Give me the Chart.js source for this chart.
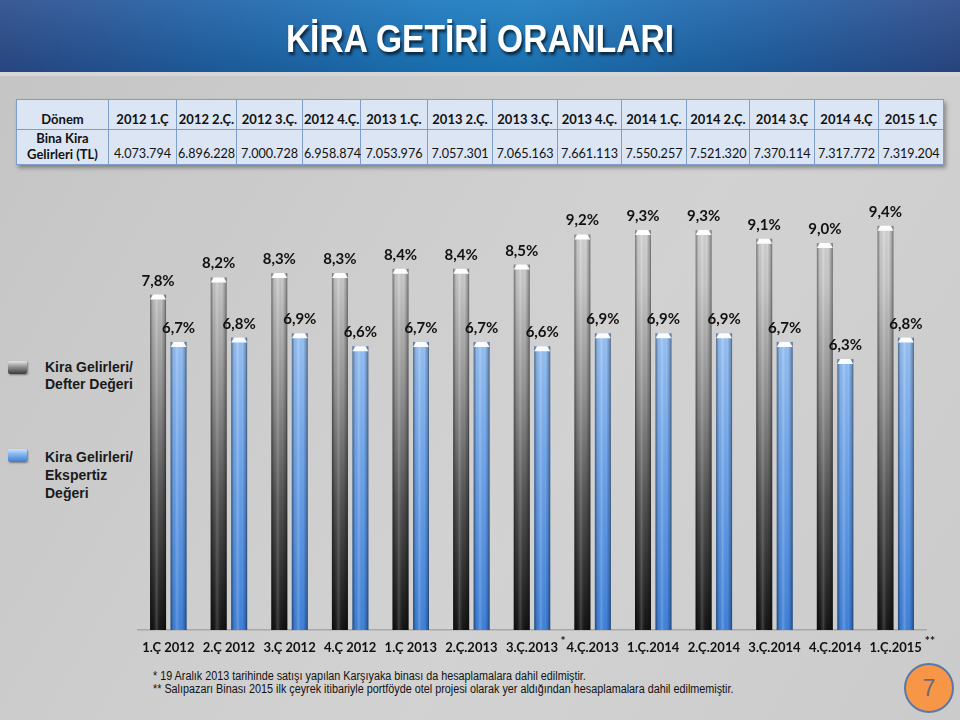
<!DOCTYPE html>
<html lang="tr">
<head>
<meta charset="utf-8">
<script src="https://cdn.jsdelivr.net/npm/chart.js@4/dist/chart.umd.min.js"></script>
<style>
  html, body { margin:0; padding:0; }
  body { width:960px; height:720px; position:relative; overflow:hidden;
    background: linear-gradient(120deg, #c4c4c4 0%, #cdcdcd 35%, #d2d2d2 60%, #cbcbcb 100%);
    font-family: "Liberation Sans", Arial, sans-serif; }
  #banner { position:absolute; left:0; top:0; width:960px; height:72px;
    background: linear-gradient(to right, #2b4c8c 0%, #1f62a8 22%, #1a78be 45%, #1c7bc0 55%, #1f62a8 78%, #2b4a8a 100%); }
  #banner:after { content:""; position:absolute; left:0; top:0; right:0; bottom:0;
    background: linear-gradient(to bottom, rgba(255,255,255,0.08), rgba(0,0,0,0.10)); }
  #band { position:absolute; left:0; top:72px; width:960px; height:4px; background:#d6d6d6; }
  #title { position:absolute; left:0; top:17px; width:960px; text-align:center; z-index:2;
    color:#fff; font: bold 39px "Liberation Sans", Arial, sans-serif;
    transform: scaleX(0.86); transform-origin: 480px 0;
    text-shadow: 2px 3px 3px rgba(0,0,0,0.65); }
  #tbl { position:absolute; left:16px; top:99px; width:927px; border-collapse:collapse; table-layout:fixed;
    box-shadow: 2px 3px 4px rgba(0,0,0,0.35); background:#dbe5f3;
    font-family: Lato, "Open Sans", sans-serif; font-size:13px; color:#111; }
  #tbl td { border:1px solid #7f9fcb; padding:0 1px 2px 1px; text-align:center; vertical-align:bottom; white-space:nowrap; overflow:visible; }
  #tbl tr.h td { height:27px; font-weight:bold; }
  #tbl tr.b td { height:31px; line-height:16px; font-size:12.6px; }
  #tbl tr.b td.first { font-weight:bold; font-size:13px; }
  .leg { position:absolute; font: bold 14px "Liberation Sans", Arial, sans-serif; color:#1a1a1a; line-height:17px; }
  .icon { position:absolute; width:19px; height:13px; border-radius:2px; box-shadow:1px 1px 2px rgba(0,0,0,0.4); }
  #icon1 { left:8px; top:361px; background: linear-gradient(to bottom, #e8e8e8 0%, #9a9a9a 40%, #3a3a3a 100%); }
  #icon2 { left:8px; top:449px; background: linear-gradient(to bottom, #cfe3fb 0%, #86b5ef 40%, #3d7dd0 100%); }
  #foot { position:absolute; left:153px; top:670px; font: 12px "Liberation Sans", Arial, sans-serif; color:#111; line-height:13px;
    transform: scaleX(0.9); transform-origin: 0 0; white-space:nowrap; }
  #page { position:absolute; left:904px; top:663px; width:50px; height:50px; border-radius:50%;
    background:#f79646; border:2px solid #5b78a8; box-sizing:border-box; text-align:center;
    font: 23px "Liberation Sans", Arial, sans-serif; color:#6b6b78; line-height:47px; }
  #chart { position:absolute; left:0; top:0; }
</style>
</head>
<body>
<div id="banner"></div>
<div id="band"></div>
<div id="title">KİRA GETİRİ ORANLARI</div>
<table id="tbl"></table>

<div class="icon" id="icon1"></div>
<div class="leg" style="left:45px; top:359px;">Kira Gelirleri/<br>Defter Değeri</div>
<div class="icon" id="icon2"></div>
<div class="leg" style="left:45px; top:448px; line-height:18px;">Kira Gelirleri/<br>Ekspertiz<br>Değeri</div>

<div id="foot">* 19 Aralık 2013 tarihinde satışı yapılan Karşıyaka binası da hesaplamalara dahil edilmiştir.<br>** Salıpazarı Binası 2015 ilk çeyrek itibariyle portföyde otel projesi olarak yer aldığından hesaplamalara dahil edilmemiştir.</div>
<div id="page">7</div>

<canvas id="chart" width="960" height="720"></canvas>

<script>
// ---- Data ----
const tablePeriods = ['2012 1.Ç','2012 2.Ç.','2012 3.Ç.','2012 4.Ç.','2013 1.Ç.','2013 2.Ç.','2013 3.Ç.','2013 4.Ç.','2014 1.Ç.','2014 2.Ç.','2014 3.Ç','2014 4.Ç','2015 1.Ç'];
const rentIncomeTL = ['4.073.794','6.896.228','7.000.728','6.958.874','7.053.976','7.057.301','7.065.163','7.661.113','7.550.257','7.521.320','7.370.114','7.317.772','7.319.204'];
const categories = ['1.Ç 2012','2.Ç 2012','3.Ç 2012','4.Ç 2012','1.Ç 2013','2.Ç.2013','3.Ç.2013','4.Ç.2013','1.Ç.2014','2.Ç.2014','3.Ç.2014','4.Ç.2014','1.Ç.2015'];
const bookValueYield = [7.8, 8.2, 8.3, 8.3, 8.4, 8.4, 8.5, 9.2, 9.3, 9.3, 9.1, 9.0, 9.4];
const appraisalYield = [6.7, 6.8, 6.9, 6.6, 6.7, 6.7, 6.6, 6.9, 6.9, 6.9, 6.7, 6.3, 6.8];
const markBefore = {7: '*'};
const markAfter = {12: '**'};

// ---- Table ----
const colW = [92,68,60,66,58,67,65,65,64,65,63,65,64,65];
const tbl = document.getElementById('tbl');
const cg = document.createElement('colgroup');
colW.forEach(w => { const c = document.createElement('col'); c.style.width = w + 'px'; cg.appendChild(c); });
tbl.appendChild(cg);
const trH = document.createElement('tr'); trH.className = 'h';
['Dönem'].concat(tablePeriods).forEach(t => { const td = document.createElement('td'); td.textContent = t; trH.appendChild(td); });
tbl.appendChild(trH);
const trB = document.createElement('tr'); trB.className = 'b';
const f = document.createElement('td'); f.className = 'first'; f.innerHTML = 'Bina Kira<br>Gelirleri (TL)'; trB.appendChild(f);
rentIncomeTL.forEach(t => { const td = document.createElement('td'); td.textContent = t; trB.appendChild(td); });
tbl.appendChild(trB);

// ---- Chart ----
function vGrad(ctx, area, stops) {
  const g = ctx.createLinearGradient(0, area.top, 0, area.bottom);
  stops.forEach(s => g.addColorStop(s[0], s[1]));
  return g;
}
const greyStops = [[0,'#dcdcdc'],[0.2,'#c8c8c8'],[0.45,'#929292'],[0.7,'#525252'],[1,'#151515']];
const blueStops = [[0,'#bcdcff'],[0.3,'#9cc6f8'],[0.6,'#72a8ee'],[1,'#3f82dc']];

const barStyle = {
  id: 'barStyle',
  afterDatasetsDraw(chart) {
    const ctx = chart.ctx;
    chart.data.datasets.forEach((ds, di) => {
      chart.getDatasetMeta(di).data.forEach((bar) => {
        const w = bar.width, x0 = bar.x - w / 2, top = bar.y, base = bar.base;
        ctx.save();
        const h = ctx.createLinearGradient(x0, 0, x0 + w, 0);
        h.addColorStop(0, 'rgba(0,0,0,0.45)');
        h.addColorStop(0.18, 'rgba(0,0,0,0.05)');
        h.addColorStop(0.4, 'rgba(255,255,255,0.18)');
        h.addColorStop(0.7, 'rgba(0,0,0,0.0)');
        h.addColorStop(0.9, 'rgba(0,0,0,0.25)');
        h.addColorStop(1, 'rgba(0,0,0,0.5)');
        ctx.fillStyle = h;
        ctx.fillRect(x0, top, w, base - top);
        ctx.beginPath();
        ctx.moveTo(x0, top + 5);
        ctx.lineTo(x0 + 3, top);
        ctx.lineTo(x0 + w - 3, top);
        ctx.lineTo(x0 + w, top + 5);
        ctx.closePath();
        ctx.fillStyle = 'rgba(255,255,255,0.95)';
        ctx.fill();
        ctx.restore();
      });
    });
  }
};

const valueLabels = {
  id: 'valueLabels',
  afterDatasetsDraw(chart) {
    const ctx = chart.ctx;
    ctx.save();
    ctx.font = 'bold 15px Lato, "Open Sans", sans-serif';
    ctx.fillStyle = '#111';
    ctx.textAlign = 'center';
    ctx.textBaseline = 'alphabetic';
    chart.data.datasets.forEach((ds, di) => {
      chart.getDatasetMeta(di).data.forEach((bar, i) => {
        const txt = ds.data[i].toFixed(1).replace('.', ',') + '%';
        ctx.fillText(txt, bar.x, bar.y - 9);
      });
    });
    ctx.restore();
  }
};

const footMarks = {
  id: 'footMarks',
  afterDraw(chart) {
    const ctx = chart.ctx, xs = chart.scales.x;
    const labelFont = 'bold 13px Lato, "Open Sans", sans-serif';
    ctx.save();
    ctx.fillStyle = '#111';
    ctx.textBaseline = 'alphabetic';
    const widthOf = (t) => { ctx.font = labelFont; return ctx.measureText(t).width; };
    Object.keys(markBefore).forEach(k => {
      const i = +k, lw = widthOf(categories[i]);
      ctx.font = 'bold 12px Lato, "Open Sans", sans-serif';
      ctx.textAlign = 'right';
      ctx.fillText(markBefore[k], xs.getPixelForValue(i) - lw / 2 - 1, 645);
    });
    Object.keys(markAfter).forEach(k => {
      const i = +k, lw = widthOf(categories[i]);
      ctx.font = 'bold 12px Lato, "Open Sans", sans-serif';
      ctx.textAlign = 'left';
      ctx.fillText(markAfter[k], xs.getPixelForValue(i) + lw / 2 + 3, 645);
    });
    ctx.restore();
  }
};

new Chart(document.getElementById('chart'), {
  type: 'bar',
  data: {
    labels: categories,
    datasets: [
      { label: 'Kira Gelirleri/ Defter Değeri', data: bookValueYield,
        backgroundColor: (c) => c.chart.chartArea ? vGrad(c.chart.ctx, c.chart.chartArea, greyStops) : '#999',
        borderWidth: 0, categoryPercentage: 0.676, barPercentage: 0.78 },
      { label: 'Kira Gelirleri/ Ekspertiz Değeri', data: appraisalYield,
        backgroundColor: (c) => c.chart.chartArea ? vGrad(c.chart.ctx, c.chart.chartArea, blueStops) : '#7ab',
        borderWidth: 0, categoryPercentage: 0.676, barPercentage: 0.78 }
    ]
  },
  options: {
    responsive: false,
    animation: false,
    events: [],
    layout: { padding: { left: 138, right: 34, top: 200, bottom: 60 } },
    plugins: { legend: { display: false }, tooltip: { enabled: false }, title: { display: false } },
    scales: {
      x: {
        grid: { display: false, drawTicks: false },
        border: { display: true, color: '#a8a8a8', width: 1.5 },
        ticks: { color: '#111', font: { family: 'Lato, "Open Sans", sans-serif', size: 13, weight: 'bold' }, padding: 10, maxRotation: 0, autoSkip: false },
        afterFit: (s) => { s.height = 30; }
      },
      y: { display: false, min: 0, max: 10 }
    }
  },
  plugins: [barStyle, valueLabels, footMarks]
});
</script>
</body>
</html>
